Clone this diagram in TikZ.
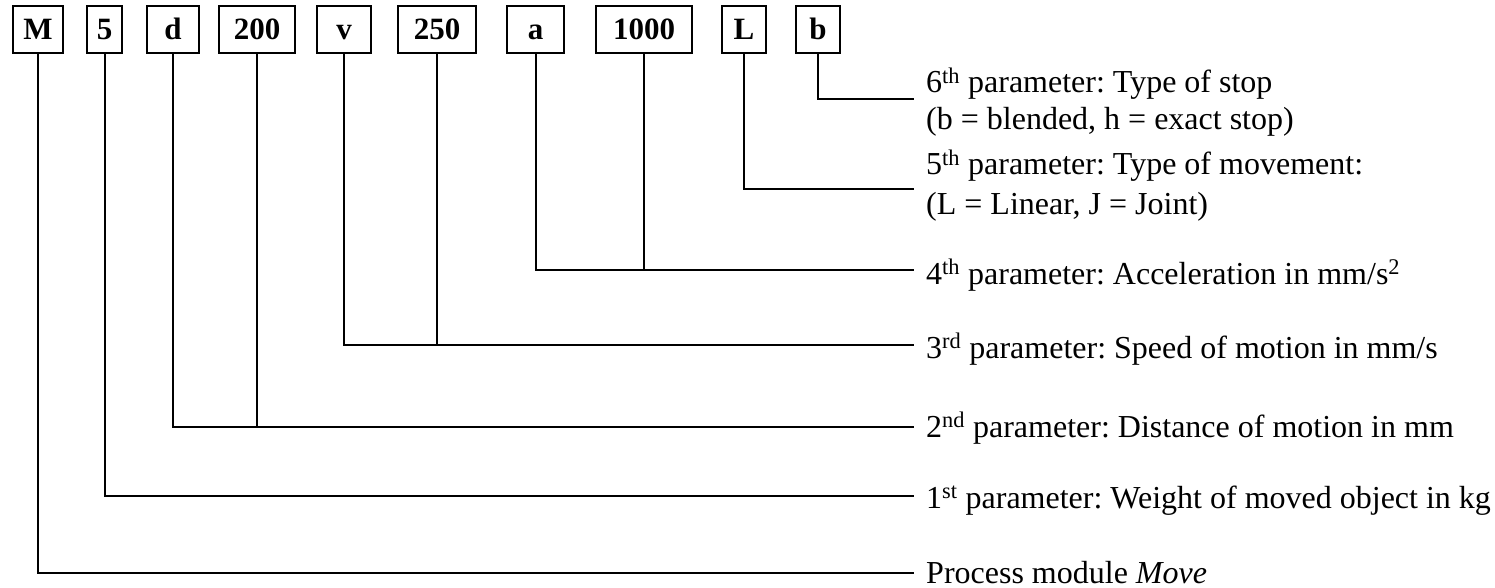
\documentclass[tikz,border=0pt]{standalone}
\usepackage{fontspec}
\setmainfont{Liberation Serif}
\begin{document}
\frenchspacing
\begin{tikzpicture}[x=1pt,y=-1pt,
  cbox/.style={draw,line width=1.5pt,minimum height=47pt,inner sep=0pt,text height=21pt,text depth=0pt,font=\fontsize{31}{36}\selectfont\bfseries},
  lbl/.style={anchor=base west,inner sep=0pt,font=\fontsize{32}{38}\selectfont},
  conn/.style={line width=2pt}]
\useasboundingbox (0,0) rectangle (1495,588);
\node[cbox,minimum width=50pt] (M) at (38,29.5) {M};
\node[cbox,minimum width=35pt] (n5) at (104.5,29.5) {5};
\node[cbox,minimum width=52pt] (d) at (173,29.5) {d};
\node[cbox,minimum width=76pt] (n200) at (257,29.5) {200};
\node[cbox,minimum width=54pt] (v) at (344,29.5) {v};
\node[cbox,minimum width=78pt] (n250) at (437,29.5) {250};
\node[cbox,minimum width=57pt] (a) at (535.5,29.5) {a};
\node[cbox,minimum width=96pt] (n1000) at (644,29.5) {1000};
\node[cbox,minimum width=44pt] (L) at (744,29.5) {L};
\node[cbox,minimum width=44pt] (b) at (818,29.5) {b};
% label texts
\node[lbl] (t6a) at (926,93) {6\textsuperscript{th} parameter: Type of stop};
\node[lbl] (t6b) at (926,130) {(b = blended, h = exact stop)};
\node[lbl] (t5a) at (926,175) {5\textsuperscript{th} parameter: Type of movement:};
\node[lbl] (t5b) at (926,214) {(L = Linear, J = Joint)};
\node[lbl] (t4) at (926,284) {4\textsuperscript{th} parameter: Acceleration in mm/s\textsuperscript{2}};
\node[lbl] (t3) at (926,358) {3\textsuperscript{rd} parameter: Speed of motion in mm/s};
\node[lbl] (t2) at (926,437) {2\textsuperscript{nd} parameter: Distance of motion in mm};
\node[lbl] (t1) at (926,508) {1\textsuperscript{st} parameter: Weight of moved object in kg};
\node[lbl] (t0) at (926,583) {Process module \textit{Move}};
% line ends
\coordinate (e6) at (914,99);
\coordinate (e5) at (914,189);
\coordinate (e4) at (914,270);
\coordinate (e3) at (914,345);
\coordinate (e2) at (914,427);
\coordinate (e1) at (914,496);
\coordinate (e0) at (914,573);
% connectors
\draw[conn] (b.south) |- (e6);
\draw[conn] (L.south) |- (e5);
\draw[conn] (a.south) |- (e4);
\draw[conn] (n1000.south) -- (n1000.south |- e4);
\draw[conn] (v.south) |- (e3);
\draw[conn] (n250.south) -- (n250.south |- e3);
\draw[conn] (d.south) |- (e2);
\draw[conn] (n200.south) -- (n200.south |- e2);
\draw[conn] (n5.south) |- (e1);
\draw[conn] (M.south) |- (e0);
\end{tikzpicture}
\end{document}
